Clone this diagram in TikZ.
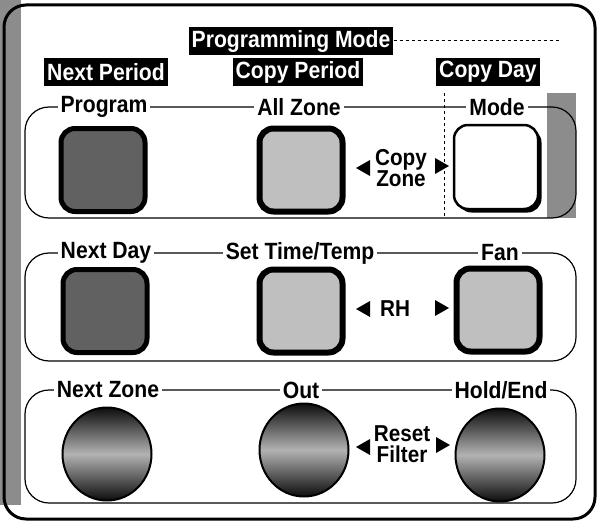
\documentclass[tikz,border=0pt]{standalone}
\usepackage{fontspec}
\setmainfont{Liberation Sans}
\newfontfamily\panelfont[FakeStretch=0.9]{Liberation Sans}
\usetikzlibrary{shapes.geometric,shadows}
\begin{document}
\begin{tikzpicture}[x=1pt,y=-1pt,
  lbl/.style={font=\panelfont\bfseries\fontsize{23.5}{24}\selectfont, fill=white, inner xsep=3pt, inner ysep=1pt},
  hdr/.style={font=\panelfont\bfseries\fontsize{23.5}{24}\selectfont, fill=black, text=white, inner xsep=3pt, inner ysep=0pt, minimum height=28pt},
  mid/.style={font=\panelfont\bfseries\fontsize{23}{22}\selectfont, align=center, inner sep=0pt},
  grp/.style={draw=black, line width=1.2pt, rounded corners=24pt},
  sqdark/.style={draw=black, line width=5pt, rounded corners=14pt, fill=black!62, minimum width=84pt, minimum height=83pt},
  sqlight/.style={draw=black, line width=6pt, rounded corners=14pt, fill=black!25, minimum width=83pt, minimum height=83pt},
  modebtn/.style={draw=black, line width=2.5pt, rounded corners=14pt, fill=white, minimum width=84pt, minimum height=84pt,
     drop shadow={opacity=1, fill=black, shadow xshift=3.5pt, shadow yshift=-3.5pt}},
  rnd/.style={ellipse, draw=black, line width=2pt, top color=black!95, bottom color=black!95, middle color=black!30, minimum width=89pt, minimum height=93pt},
  scan/.style={fill=black!45},
  tri/.style={fill=black}
]
\useasboundingbox (0,0) rectangle (599,524);
\fill[white] (0,0) rectangle (599,524);
% scanned dark strips
\fill[scan] (0,0) rectangle (21,505);
\fill[scan] (547,93) rectangle (576,218);
% outer frame
\draw[line width=3pt, rounded corners=22pt] (4,5) rectangle (595,519);

% header
\node[hdr] (pm) at (291,41) {Programming Mode};
\coordinate (pmend) at (560,41);
\draw[dashed, line width=1pt] (pm.east) -- (pmend);
\node[hdr] (np) at (106,72) {Next Period};
\node[hdr] (cp) at (298,72) {Copy Period};
\node[hdr] (cd) at (488,72) {Copy Day};

% groups
\draw[grp] (25,107) rectangle (576,218);
\draw[grp] (25,253) rectangle (576,361);
\draw[grp] (25,390) rectangle (576,503);
\coordinate (mt) at (444,93);
\coordinate (mb) at (444,217);
\draw[dashed, line width=1pt] (mt) -- (mb);

% row 1
\node[lbl] (lprog) at (104,107) {Program};
\node[lbl] (lall) at (299,107) {All Zone};
\node[lbl] (lmode) at (497,107) {Mode};
\node[sqdark] (prog) at (103,170) {};
\node[sqlight] (allz) at (301,170) {};
\node[modebtn] (mode) at (496,167) {};
\node[mid] (cz) at (401,168) {Copy\\[-1pt]Zone};
\fill[tri] (356,168) -- (370,160) -- (370,176) -- cycle;
\fill[tri] (449,166) -- (435,158) -- (435,174) -- cycle;

% row 2
\node[lbl] (lnd) at (106,253) {Next Day};
\node[lbl] (lst) at (300,253) {Set Time/Temp};
\node[lbl] (lfan) at (500,253) {Fan};
\node[sqdark] (nd) at (105,311) {};
\node[sqlight] (st) at (301,311) {};
\node[sqlight] (fan) at (498,310) {};
\node[mid] (rh) at (395,309) {RH};
\fill[tri] (356,309) -- (370,301) -- (370,317) -- cycle;
\fill[tri] (449,308) -- (435,300) -- (435,316) -- cycle;

% row 3
\node[lbl] (lnz) at (108,390) {Next Zone};
\node[lbl] (lout) at (301,390) {Out};
\node[lbl] (lhold) at (501,390) {Hold/End};
\node[rnd] (nz) at (107,454) {};
\node[rnd] (out) at (304,450) {};
\node[rnd] (hold) at (500,455) {};
\node[mid] (rf) at (402,444) {Reset\\[-1pt]Filter};
\fill[tri] (356,447) -- (370,439) -- (370,455) -- cycle;
\fill[tri] (450,445) -- (436,437) -- (436,453) -- cycle;
\end{tikzpicture}
\end{document}
